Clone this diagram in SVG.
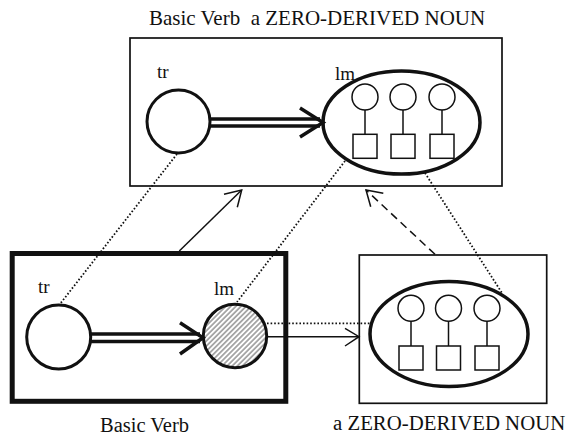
<svg xmlns="http://www.w3.org/2000/svg" width="567" height="436" viewBox="0 0 567 436">
  <defs>
    <pattern id="hatch" patternUnits="userSpaceOnUse" width="3.6" height="3.6" patternTransform="rotate(-45)">
      <line x1="0" y1="1.8" x2="3.6" y2="1.8" stroke="#333" stroke-width="0.8"/>
    </pattern>
  </defs>
  <style>
    text { font-family: "Liberation Serif", "Times New Roman", serif; fill: #111; }
    .title { font-size: 21px; }
    .lbl { font-size: 19px; }
    .box { fill: none; stroke: #111; stroke-width: 1.7; }
    .thickbox { fill: none; stroke: #111; stroke-width: 5; }
    .ent { fill: #fff; stroke: #111; stroke-width: 3; }
    .ell { fill: #fff; stroke: #111; stroke-width: 3.5; }
    .sm { fill: #fff; stroke: #111; stroke-width: 1.5; }
    .stem { stroke: #111; stroke-width: 1.5; }
    .shaft { stroke: #111; stroke-width: 3.5; fill: none; }
    .head { stroke: #111; stroke-width: 3.5; fill: none; }
    .dot { stroke: #111; stroke-width: 1.8; stroke-dasharray: 1.6 2; fill: none; }
    .thin { stroke: #111; stroke-width: 1.5; fill: none; }
    .dash { stroke: #111; stroke-width: 1.5; stroke-dasharray: 8 5; fill: none; }
  </style>
  <rect width="567" height="436" fill="#fff"/>

  <!-- upper frame: the derived noun profile -->
  <g id="upper-frame">
    <text class="title" x="149" y="25" xml:space="preserve">Basic Verb  a ZERO-DERIVED NOUN</text>
    <rect class="box" x="130" y="38" width="372" height="148"/>
    <text class="lbl" x="157" y="78">tr</text>
    <text class="lbl" x="335" y="80">lm</text>
  </g>
  <g id="upper-tr">
    <circle class="ent" cx="178.5" cy="121.5" r="31.5"/>
  </g>
  <g id="upper-lm">
    <ellipse class="ell" cx="401.5" cy="122.5" rx="78.5" ry="51.5"/>
    <circle class="sm" cx="365" cy="97" r="13"/>
    <circle class="sm" cx="403" cy="97" r="13"/>
    <circle class="sm" cx="442" cy="97" r="13"/>
    <line class="stem" x1="365" y1="110" x2="365" y2="134.3"/>
    <line class="stem" x1="403" y1="110" x2="403" y2="134.3"/>
    <line class="stem" x1="442" y1="110" x2="442" y2="134.3"/>
    <rect class="sm" x="353" y="134.3" width="24" height="24"/>
    <rect class="sm" x="391" y="134.3" width="24" height="24"/>
    <rect class="sm" x="430" y="134.3" width="24" height="24"/>
  </g>
  <g id="upper-relation">
    <line class="shaft" x1="210" y1="119" x2="320" y2="119"/>
    <line class="shaft" x1="210" y1="126" x2="320" y2="126"/>
    <polyline class="head" points="300,108 323,122.5 300,137"/>
  </g>

  <!-- lower left frame: basic verb -->
  <g id="verb-frame">
    <rect class="thickbox" x="12.2" y="253.5" width="273.6" height="147.8"/>
    <text class="lbl" x="38" y="293">tr</text>
    <text class="lbl" x="214" y="295">lm</text>
    <text class="title" x="100" y="431.5" style="font-size:20.5px">Basic Verb</text>
  </g>
  <g id="verb-tr">
    <circle class="ent" cx="58.7" cy="337" r="32"/>
  </g>
  <g id="verb-lm">
    <circle class="ent" cx="235" cy="336" r="31.7" style="fill:url(#hatch)"/>
  </g>
  <g id="verb-relation">
    <line class="shaft" x1="90" y1="334" x2="200" y2="334"/>
    <line class="shaft" x1="90" y1="341.5" x2="200" y2="341.5"/>
    <polyline class="head" points="180,322.7 203,337.7 180,354"/>
  </g>

  <!-- lower right frame: zero-derived noun -->
  <g id="noun-frame">
    <rect class="box" x="359.3" y="255" width="187.4" height="148.3"/>
    <text class="title" x="333" y="430" style="font-size:20.8px">a ZERO-DERIVED NOUN</text>
  </g>
  <g id="noun-set">
    <ellipse class="ell" cx="449" cy="334" rx="79" ry="52.5"/>
    <circle class="sm" cx="411" cy="308.3" r="13"/>
    <circle class="sm" cx="448.5" cy="308.3" r="13"/>
    <circle class="sm" cx="487" cy="308.3" r="13"/>
    <line class="stem" x1="411" y1="321.3" x2="411" y2="346"/>
    <line class="stem" x1="448.5" y1="321.3" x2="448.5" y2="346"/>
    <line class="stem" x1="487" y1="321.3" x2="487" y2="346"/>
    <rect class="sm" x="399" y="346" width="24" height="24"/>
    <rect class="sm" x="436.5" y="346" width="24" height="24"/>
    <rect class="sm" x="475" y="346" width="24" height="24"/>
  </g>

  <!-- correspondences and extensions -->
  <g id="connectors">
    <line class="dot" x1="177" y1="154" x2="60" y2="304"/>
    <line class="dot" x1="345" y1="161" x2="237" y2="302"/>
    <line class="dot" x1="425" y1="173" x2="502" y2="293"/>
    <line class="dot" x1="267" y1="323.3" x2="370" y2="323.3"/>
    <line class="thin" x1="267" y1="336.7" x2="359" y2="336.7"/>
    <polyline class="thin" points="345,328.3 359,336.7 345,346"/>
    <line class="thin" x1="179.3" y1="251" x2="241.7" y2="190"/>
    <polyline class="thin" points="224,194.3 241.7,190 237.3,207.3"/>
    <line class="dash" x1="435" y1="254.3" x2="366" y2="190"/>
    <polyline class="thin" points="383.3,193.3 366,190 370.7,206.7"/>
  </g>
</svg>
